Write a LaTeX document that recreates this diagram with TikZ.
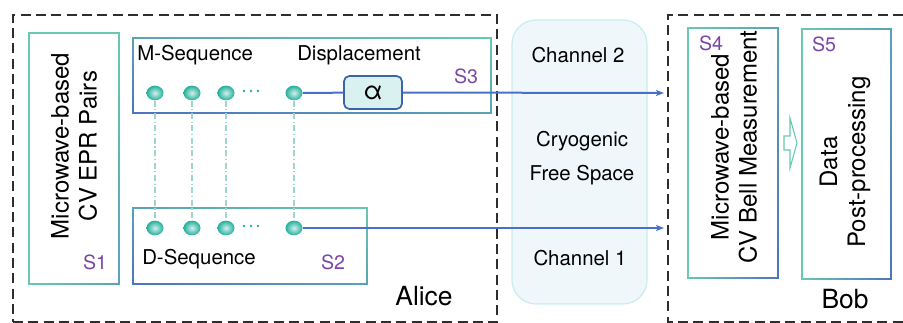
\documentclass[tikz,border=0pt]{standalone}
\usepackage{fontspec}
\setmainfont{TeX Gyre Heros}
\usetikzlibrary{arrows.meta,shapes.geometric,fit}
\definecolor{boxgreen}{HTML}{66C9B0}
\definecolor{boxblue}{HTML}{4C74BF}
\definecolor{lineblue}{HTML}{4A6FC9}
\definecolor{slabel}{HTML}{7B45A6}
\definecolor{dotteal}{HTML}{22B09C}
\definecolor{chanfill}{HTML}{EFF7FA}
\definecolor{chandraw}{HTML}{C8ECEF}
\definecolor{alphafill}{HTML}{D9F1EF}
\definecolor{alphadraw}{HTML}{3D63A8}
\definecolor{linkteal}{HTML}{9ED6CE}
\definecolor{dashgray}{HTML}{2E2E2E}
\colorlet{boxmix}{boxgreen!55!boxblue}
\begin{document}
\begin{tikzpicture}[x=0.75pt,y=-0.75pt,
  stagebox/.style={inner sep=0pt},
  party/.style={draw=dashgray, line width=1.4pt, dash pattern=on 7.5pt off 4pt},
  seqdot/.style={ellipse, minimum width=12.75pt, minimum height=11pt, inner sep=0pt,
     shading=radial, inner color=dotteal!20!white, outer color=dotteal},
  linkdash/.style={draw=linkteal, line width=0.8pt, dash pattern=on 4.5pt off 2pt on 0.8pt off 2pt},
  bline/.style={draw=lineblue, line width=1.5pt},
  barrow/.style={bline, -{Stealth[length=6pt,width=4.5pt,inset=1.5pt]}},
  lbl/.style={inner sep=0pt, font=\fontsize{15.3}{18}\selectfont},
  slbl/.style={inner sep=0pt, text=slabel, font=\fontsize{14.7}{17}\selectfont},
  rotlbl/.style={inner sep=0pt, rotate=90, align=center, font=\fontsize{18}{21}\selectfont},
  bigname/.style={inner sep=0pt, font=\fontsize{19.8}{22}\selectfont},
  tinydot/.style={circle, fill=dotteal, minimum size=2.2pt, inner sep=0pt}
]
\useasboundingbox (0,0) rectangle (903,323);

% gradient border of a stage box: #1 node, corner colours #2 TL, #3 TR, #4 BL, #5 BR
\newcommand{\edgering}[5]{%
  \shade[left color=#2, right color=#3]
    ([xshift=-0.5pt,yshift=0.5pt]#1.north west) rectangle ([xshift=0.5pt,yshift=-0.5pt]#1.north east);
  \shade[left color=#4, right color=#5]
    ([xshift=-0.5pt,yshift=0.5pt]#1.south west) rectangle ([xshift=0.5pt,yshift=-0.5pt]#1.south east);
  \shade[top color=#2, bottom color=#4]
    ([xshift=-0.5pt,yshift=0.5pt]#1.north west) rectangle ([xshift=0.5pt,yshift=-0.5pt]#1.south west);
  \shade[top color=#3, bottom color=#5]
    ([xshift=-0.5pt,yshift=0.5pt]#1.north east) rectangle ([xshift=0.5pt,yshift=-0.5pt]#1.south east);}

% parties
\node[party, fit={(13,15) (497,322)}, inner sep=0pt] (alice) {};
\draw[party] (903,15) -- (668,15) -- (668,322) -- (903,322);

% channel
\node[fill=chanfill, draw=chandraw, line width=0.9pt, rounded corners=18pt,
      fit={(512,20) (647,304)}, inner sep=0pt] (chan) {};

% stage boxes
\node[stagebox, fit={(29,33) (119,284)}] (s1) {};
\node[stagebox, fit={(133,38) (491,113)}] (s3) {};
\node[stagebox, fit={(133,208) (367,284)}] (s2) {};
\node[stagebox, fit={(688,28) (778,278)}] (s4) {};
\node[stagebox, fit={(802,29) (891,279)}] (s5) {};
\edgering{s1}{boxgreen}{boxgreen}{boxgreen}{boxmix}
\edgering{s3}{boxmix}{boxgreen}{boxblue}{boxmix}
\edgering{s2}{boxmix}{boxgreen}{boxblue}{boxmix}
\edgering{s4}{boxgreen}{boxmix}{boxgreen}{boxblue}
\edgering{s5}{boxgreen}{boxmix}{boxgreen}{boxblue}

% box texts
\node[rotlbl] (s1txt) at (74,146) {Microwave-based\\CV EPR Pairs};
\node[slbl] (s1lbl) at (95,262) {S1};
\node[lbl, anchor=base west] (mseq) at (137,61) {M-Sequence};
\node[lbl, anchor=base west] (disp) at (297,61) {Displacement};
\node[slbl] (s3lbl) at (466,76) {S3};
\node[lbl, anchor=base west] (dseq) at (142,265) {D-Sequence};
\node[slbl] (s2lbl) at (333,262) {S2};
\node[bigname, anchor=base] (alicelbl) at (424,306) {Alice};

\node[lbl, anchor=base] (ch2) at (578,63) {Channel 2};
\node[lbl, anchor=base] (cryo) at (582,147) {Cryogenic};
\node[lbl, anchor=base] (free) at (582,181) {Free Space};
\node[lbl, anchor=base] (ch1) at (580,266) {Channel 1};

\node[slbl] (s4lbl) at (711,43) {S4};
\node[rotlbl] (s4txt) at (734,147) {Microwave-based\\CV Bell Measurement};
\node[slbl] (s5lbl) at (824,44) {S5};
\node[rotlbl] (s5txt) at (845,162) {Data\\Post-processing};
\node[bigname, anchor=base] (boblbl) at (845,309) {Bob};

% hollow arrow S4 -> S5
\draw[draw=boxgreen, fill=white, line width=0.8pt, line join=miter]
  (784,136) -- (790,136) -- (790,118) -- (797,143) -- (790,168) -- (790,150) -- (784,150) -- cycle;

% sequences
\foreach \i/\x in {1/155,2/192,3/226,4/294}{
  \node[seqdot] (m\i) at (\x,93) {};
  \node[seqdot] (d\i) at (\x,228) {};
}
\foreach \i/\x in {1/244,2/251,3/258}{
  \node[tinydot] (mdot\i) at (\x,91) {};
  \node[tinydot] (ddot\i) at (\x,226) {};
}
\foreach \i in {1,2,3,4}{
  \draw[linkdash] (m\i) -- (d\i);
}

% displacement
\node[draw=alphadraw, fill=alphafill, line width=1.3pt, rounded corners=4pt,
      minimum width=43.5pt, minimum height=24.75pt, inner sep=0pt,
      font=\fontsize{19}{21}\selectfont] (alpha) at (373,92.5) {α};

\coordinate (m4end) at (664,93);
\coordinate (d4end) at (664,228);
\draw[bline] (m4) -- (alpha);
\draw[barrow] (alpha) -- (m4end);
\draw[barrow] (d4) -- (d4end);
\end{tikzpicture}
\end{document}
